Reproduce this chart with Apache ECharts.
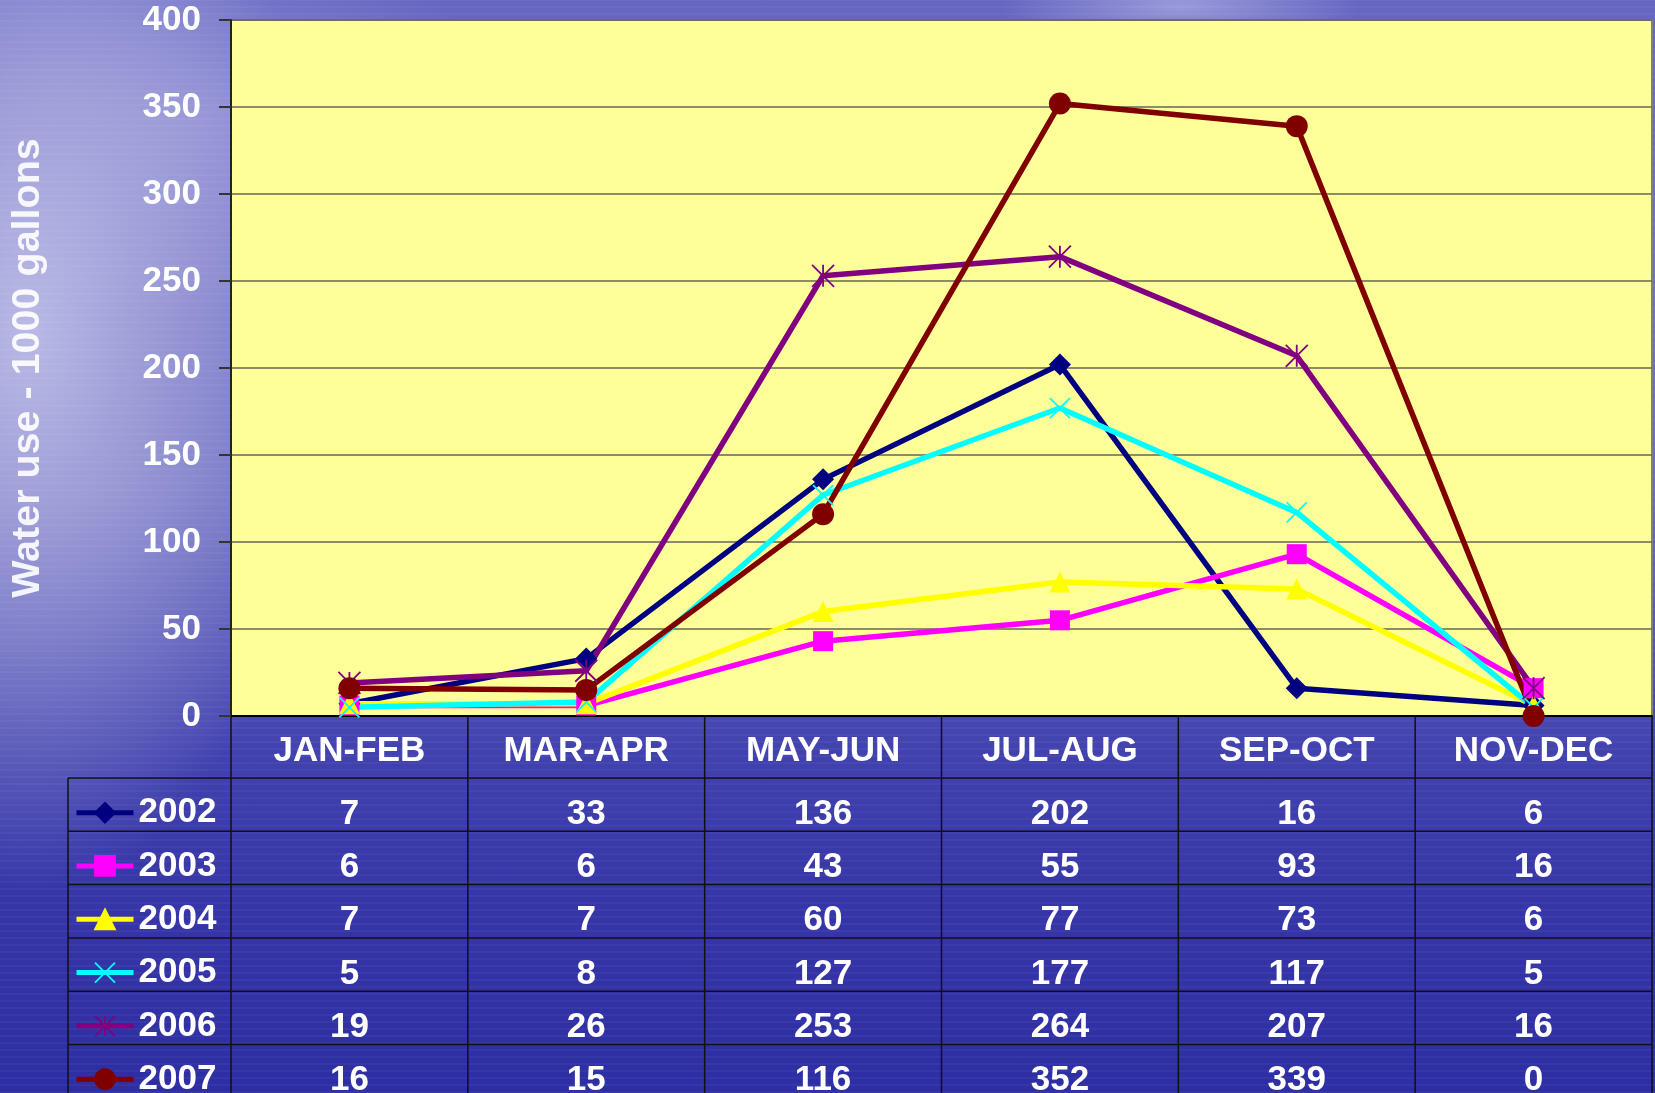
<!DOCTYPE html>
<html>
<head>
<meta charset="utf-8">
<title>Water use</title>
<script src="https://cdn.jsdelivr.net/npm/echarts@6.0.0/dist/echarts.min.js"></script>
<style>
html, body { margin: 0; padding: 0; width: 1655px; height: 1093px; overflow: hidden; }
body {
    background:
        repeating-linear-gradient(0deg, rgba(255,255,255,0.035) 0px, rgba(255,255,255,0.035) 2px, rgba(255,255,255,0) 2px, rgba(255,255,255,0) 7px),
        radial-gradient(ellipse 300px 560px at 30px 330px, rgba(210,210,240,0.75), rgba(210,210,240,0)),
        radial-gradient(ellipse 180px 40px at 1180px 6px, rgba(175,175,228,0.7), rgba(175,175,228,0)),
        radial-gradient(ellipse 300px 200px at 200px 120px, rgba(170,170,225,0.45), rgba(170,170,225,0)),
        linear-gradient(180deg, #6666c2 0%, #7070c4 25%, #6a6ac0 45%, #5252b6 60%, #4040ae 70%, #3636a8 82%, #2e2ea4 100%);
}
#main { width: 1655px; height: 1093px; }
</style>
</head>
<body>
<div id="main"></div>
<script>
// categories and values
var categories = ['JAN-FEB', 'MAR-APR', 'MAY-JUN', 'JUL-AUG', 'SEP-OCT', 'NOV-DEC'];
var years = ['2002', '2003', '2004', '2005', '2006', '2007'];
var use2002 = [7, 33, 136, 202, 16, 6];
var use2003 = [6, 6, 43, 55, 93, 16];
var use2004 = [7, 7, 60, 77, 73, 6];
var use2005 = [5, 8, 127, 177, 117, 5];
var use2006 = [19, 26, 253, 264, 207, 16];
var use2007 = [16, 15, 116, 352, 339, 0];
var yTicks = [0, 50, 100, 150, 200, 250, 300, 350, 400];

var rows = [use2002, use2003, use2004, use2005, use2006, use2007];
var colors = ['#000080', '#ff00ff', '#ffff00', '#00ffff', '#800080', '#800000'];
var symbols = [
    'diamond', 'rect', 'triangle',
    'path://M0,0L10,10M10,0L0,10',
    'path://M0,0L10,10M10,0L0,10M5,0L5,10',
    'circle'
];
var symbolSizes = [22, 20, 21, 20, 22, 22];

// layout
var W = 1655, H = 1093;
var gridLeft = 231, gridTop = 20, gridRight = 3, plotBottom = 716;
var headerBottom = 778, rowH = 53.3, tableLeft = 68;
var font = 'Liberation Sans, Arial, sans-serif';
var fs = 35;
var textH = 35; // legend text box height at fs

var myChart = echarts.init(document.getElementById('main'));

var xAxes = [{
    type: 'category',
    data: categories,
    boundaryGap: true,
    axisLine: { lineStyle: { color: '#000', width: 2 } },
    axisTick: { show: false },
    axisLabel: {
        interval: 0, margin: 35, verticalAlign: 'middle',
        color: '#fff', fontSize: fs, fontWeight: 'bold', fontFamily: font
    }
}];
rows.forEach(function (vals, k) {
    xAxes.push({
        type: 'category',
        data: categories,
        position: 'bottom',
        offset: headerBottom + k * rowH + rowH / 2 + 9.5 - plotBottom,
        axisLine: { show: false },
        axisTick: { show: false },
        splitLine: { show: false },
        axisLabel: {
            interval: 0, margin: 0, verticalAlign: 'middle',
            color: '#fff', fontSize: fs, fontWeight: 'bold', fontFamily: font,
            formatter: function (v, i) { return String(vals[i]); }
        }
    });
});

var series = years.map(function (y, k) {
    var cross = k === 3 || k === 4;
    return {
        name: y,
        type: 'line',
        data: rows[k],
        symbol: symbols[k],
        symbolSize: symbolSizes[k],
        lineStyle: { color: colors[k], width: 5.5 },
        itemStyle: {
            color: colors[k],
            borderColor: colors[k],
            borderWidth: cross ? 1.8 : 0
        },
        emphasis: { disabled: true }
    };
});

// table ruling
var colW = (W - gridRight - gridLeft) / categories.length;
var lines = [];
for (var c = 0; c <= categories.length; c++) {
    var x = gridLeft + c * colW;
    lines.push({ type: 'line', shape: { x1: x, y1: plotBottom, x2: x, y2: H }, style: { stroke: '#111', lineWidth: 1.5 } });
}
lines.push({ type: 'line', shape: { x1: tableLeft, y1: headerBottom, x2: tableLeft, y2: H }, style: { stroke: '#111', lineWidth: 1.5 } });
for (var r = 0; r < rows.length; r++) {
    var yy = headerBottom + r * rowH;
    lines.push({ type: 'line', shape: { x1: tableLeft, y1: yy, x2: W - gridRight, y2: yy }, style: { stroke: '#111', lineWidth: 1.5 } });
}

var option = {
    animation: false,
    backgroundColor: 'transparent',
    grid: {
        left: gridLeft, top: gridTop, right: gridRight, bottom: H - plotBottom,
        outerBoundsMode: 'none',
        containLabel: false,
        show: true, backgroundColor: '#ffff99', borderColor: '#808080', borderWidth: 2
    },
    legend: {
        data: years,
        orient: 'vertical',
        left: 74,
        top: headerBottom + rowH / 2 + 8 - textH / 2,
        height: 400,
        padding: 0,
        itemWidth: 57,
        itemHeight: 25,
        itemGap: rowH - textH,
        itemStyle: { borderWidth: 1.8 },
        lineStyle: { width: 5 },
        textStyle: { color: '#fff', fontSize: fs, fontWeight: 'bold', fontFamily: font, lineHeight: 25 },
        selectedMode: false
    },
    xAxis: xAxes,
    yAxis: {
        type: 'value',
        min: yTicks[0],
        max: yTicks[yTicks.length - 1],
        interval: 50,
        name: 'Water use - 1000 gallons',
        nameLocation: 'middle',
        nameGap: 183,
        nameRotate: 90,
        nameTextStyle: {
            color: 'rgba(255,255,255,0.9)', fontSize: 39.5, fontWeight: 'bold', fontFamily: font
        },
        axisLine: { show: true, lineStyle: { color: '#222', width: 2 } },
        axisTick: { show: true, length: 12, lineStyle: { color: '#333', width: 2 } },
        axisLabel: { margin: 30, color: '#fff', fontSize: fs, fontWeight: 'bold', fontFamily: font },
        splitLine: { lineStyle: { color: '#66665a', width: 1.5 } }
    },
    graphic: lines,
    series: series
};

myChart.setOption(option);
window.addEventListener('resize', function () {
    myChart.resize();
});
</script>
</body>
</html>
